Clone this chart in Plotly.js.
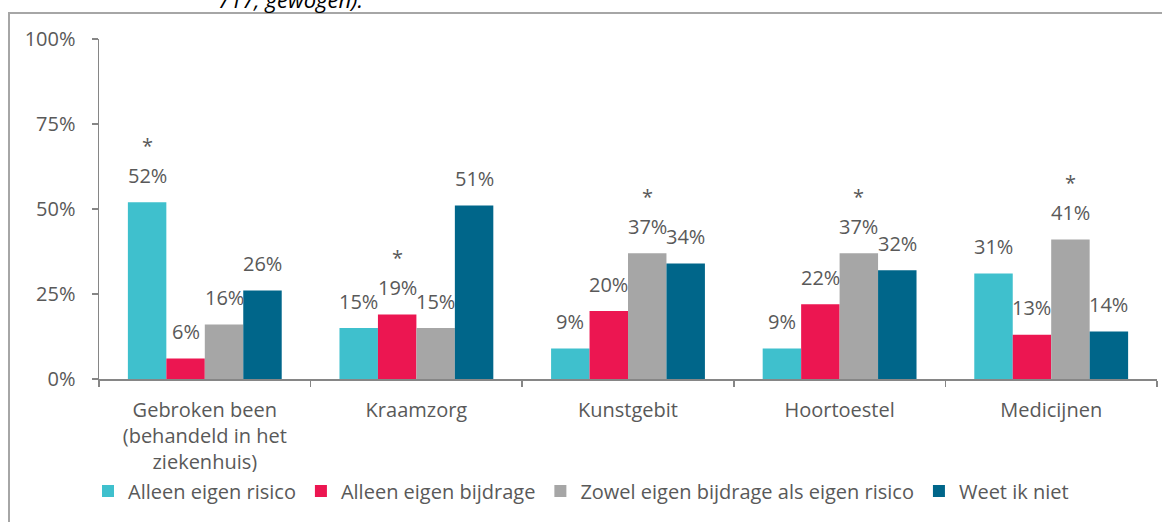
<!DOCTYPE html>
<html>
<head>
<meta charset="utf-8">
<script src="https://cdn.plot.ly/plotly-3.0.1.min.js"></script>
<style>html,body{margin:0;padding:0;background:#fff;}#chart{width:1162px;height:522px;}</style>
</head>
<body>
<div id="chart"></div>
<script>
const categories = ["Gebroken been<br>(behandeld in het<br>ziekenhuis)", "Kraamzorg", "Kunstgebit", "Hoortoestel", "Medicijnen"];
const seriesNames = ["Alleen eigen risico", "Alleen eigen bijdrage", "Zowel eigen bijdrage als eigen risico", "Weet ik niet"];
const alleenEigenRisico = [52, 15, 9, 9, 31];
const alleenEigenBijdrage = [6, 19, 20, 22, 13];
const zowelBeide = [16, 15, 37, 37, 41];
const weetIkNiet = [26, 51, 34, 32, 14];
const starSeriesIndex = [0, 1, 2, 2, 2]; // series marked with * per category
const yTickVals = [0, 25, 50, 75, 100];
const yTickText = ["0%", "25%", "50%", "75%", "100%"];
const colors = ["#3FC0CD", "#EC1651", "#A6A6A6", "#00668A"];

const allSeries = [alleenEigenRisico, alleenEigenBijdrage, zowelBeide, weetIkNiet];
const FONT = "'Open Sans', sans-serif";
const FS = 20;
const TXT = "#595959";

const traces = allSeries.map((vals, i) => ({
  type: "bar",
  name: seriesNames[i],
  x: categories,
  y: vals,
  marker: {color: colors[i]},
  hoverinfo: "none"
}));

const M = {l: 99, r: 5, t: 39, b: 143};
const W = 1162, H = 522;
const bargap = 0.273;
const plotW = W - M.l - M.r;
const plotH = H - M.t - M.b;
const barPx = plotW / categories.length * (1 - bargap) / allSeries.length;

const annotations = [];
allSeries.forEach((vals, i) => {
  vals.forEach((v, j) => {
    annotations.push({
      x: categories[j], y: v, xref: "x", yref: "y",
      xshift: (i - 1.5) * barPx, yshift: 27,
      text: v + "%", showarrow: false,
      font: {family: FONT, size: FS, color: TXT},
      xanchor: "center", yanchor: "middle"
    });
  });
});
starSeriesIndex.forEach((si, j) => {
  annotations.push({
    x: categories[j], y: allSeries[si][j], xref: "x", yref: "y",
    xshift: (si - 1.5) * barPx, yshift: 57,
    text: "*", showarrow: false,
    font: {family: FONT, size: FS, color: TXT},
    xanchor: "center", yanchor: "middle"
  });
});
annotations.push({
  xref: "paper", yref: "paper", x: (216 - M.l) / plotW, y: (H - M.b + 1) / plotH,
  xanchor: "left", yanchor: "middle", showarrow: false,
  text: "<i>717; gewogen).</i>",
  font: {family: FONT, size: 22, color: "#000"}
});

const layout = {
  width: W, height: H,
  margin: M,
  paper_bgcolor: "#fff", plot_bgcolor: "#fff",
  barmode: "group", bargap: bargap, bargroupgap: 0,
  font: {family: FONT, size: FS, color: TXT},
  showlegend: true,
  legend: {
    orientation: "h", xref: "container", yref: "container",
    x: 0.5, xanchor: "center", y: 1 - 491 / H, yanchor: "middle",
    font: {family: FONT, size: FS, color: TXT},
    traceorder: "normal", itemclick: false
  },
  xaxis: {
    type: "category", tickson: "boundaries", ticks: "outside", ticklen: 6,
    tickcolor: "#868686", tickwidth: 1.5,
    showline: true, linecolor: "#868686", linewidth: 1.5,
    showgrid: false, zeroline: false, fixedrange: true,
    tickfont: {family: FONT, size: FS, color: TXT},
    ticklabelstandoff: 12
  },
  yaxis: {
    range: [0, 100], tickvals: yTickVals, ticktext: yTickText,
    ticks: "outside", ticklen: 6, tickcolor: "#868686", tickwidth: 1.5,
    showline: true, linecolor: "#868686", linewidth: 1.5,
    showgrid: false, zeroline: false, fixedrange: true,
    tickfont: {family: FONT, size: FS, color: TXT},
    ticklabelstandoff: 12
  },
  shapes: [{
    type: "rect", xref: "paper", yref: "paper",
    x0: (9 - M.l) / plotW, x1: (1170 - M.l) / plotW,
    y0: (H - M.b - 530) / plotH, y1: (H - M.b - 13) / plotH,
    line: {color: "#A6A6A6", width: 2}, fillcolor: "rgba(0,0,0,0)", layer: "below"
  }],
  annotations: annotations
};

Plotly.newPlot("chart", traces, layout, {displayModeBar: false, staticPlot: true});
</script>
</body>
</html>
